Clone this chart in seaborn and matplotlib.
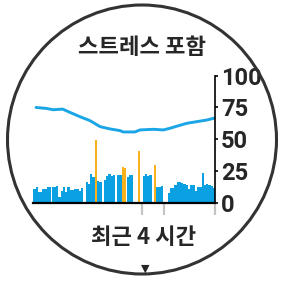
import numpy as np
import matplotlib
matplotlib.use("Agg")
import matplotlib.pyplot as plt
import seaborn as sns
from matplotlib.patches import Circle

# 3-minute bins over the last 4 hours (80 bins)
BIN_MIN = 3
rest_vals = [11, 12, 8.6, 8.6, 10.4, 10.4, 12, 12, 12, 12.5,
             13, 4.7, 9.4, 12.5, 8.6, 12, 10, 10, 10.4, 10.4,
             9.4, 11.7, 0, 16.4, 14.6, 22.4, 20.3, 0, 17, 16.4,
             0, 17.7, 20.8, 22.4, 20.8, 21.6, 0, 21.6, 21.6, 0,
             0, 20.3, 21.6, 21.6, 0, 0, 0, 0, 20.8, 22.4,
             20.8, 21.6, 0, 0, 12, 12.5, 13, 0, 0, 8,
             11.2, 11.2, 13.8, 16.4, 16, 15.6, 14.5, 13.8, 11, 13.8,
             13.8, 9.4, 12, 12.5, 23, 13.8, 14.6, 13.8, 13, 11.5]
stress_bins = [27, 39, 40, 46, 53]
stress_vals = [49.5, 28.5, 27, 41, 30]

# average stress line (minutes, value)
line_t = [3.6, 17.6, 26.4, 38.7, 48.4, 61.6, 74.8, 88, 101, 114, 118.7,
          134, 140.7, 158.3, 171.4, 180.3, 189, 202.3, 215.5, 228.7, 239.6]
line_v = [75, 74.2, 73.2, 73.7, 71.1, 67.7, 64.6, 59.9, 58.1, 56.8, 55.7,
          55.7, 57.3, 57.8, 57.3, 58.6, 60.2, 62.5, 63.8, 65.1, 66.7]

activity_t = [143, 173, 239]
hour_ticks = [60, 120, 180]
y_ticks = [0, 25, 50, 75, 100]

title = "스트레스 포함"
footer = "최근 4 시간"

BLUE = "#0aa0e2"
ORANGE = "#f9b21b"

sns.set_style("white")
plt.rcParams['font.family'] = ['Noto Sans CJK KR', 'DejaVu Sans']

fig = plt.figure(figsize=(2.81, 2.81), dpi=100)
ax = fig.add_axes([33.3 / 281, 78.3 / 281, 182 / 281, 127 / 281])

# bars
centers = np.arange(len(rest_vals)) * BIN_MIN + BIN_MIN / 2
ax.bar(centers, rest_vals, width=BIN_MIN, color=BLUE, linewidth=0)
s_centers = np.array(stress_bins) * BIN_MIN + BIN_MIN / 2
ax.bar(s_centers, stress_vals, width=BIN_MIN * 0.9, color=ORANGE, linewidth=0)

sns.lineplot(x=line_t, y=line_v, ax=ax, color="#1aa6e6", linewidth=2.1)

# activity markers under the axis
ax.vlines(activity_t, 0, -10, colors="#c4c4c4", linewidth=1.6, clip_on=False)

ax.set_xlim(0, 240)
ax.set_ylim(0, 100)
ax.set_xticks(hour_ticks)
ax.set_xticklabels([])
ax.tick_params(axis="x", direction="out", length=3, width=1.4, color="black")

ax.yaxis.tick_right()
ax.set_yticks(y_ticks)
ax.set_yticklabels([str(v) for v in y_ticks], fontsize=17, fontweight="bold",
                   family=["Liberation Sans Narrow", "Roboto", "DejaVu Sans"])
ax.tick_params(axis="y", direction="out", length=2.5, width=1.2, pad=1.5,
               color="black")

for side in ["left", "top"]:
    ax.spines[side].set_visible(False)
ax.spines["bottom"].set_linewidth(1.6)
ax.spines["bottom"].set_color("black")
ax.spines["right"].set_linewidth(1.2)
ax.spines["right"].set_color("black")
ax.set_xlabel("")
ax.set_ylabel("")
ax.patch.set_alpha(0)

# watch face ring
ring = Circle((142 / 281, 1 - 139.5 / 281), 134.5 / 281, transform=fig.transFigure,
              fill=False, edgecolor="#333333", linewidth=2.2)
fig.patches.append(ring)

fig.text(142 / 281, 1 - 48 / 281, title, ha="center", va="center",
         fontsize=16, fontweight="bold")
fig.text(144 / 281, 1 - 237 / 281, footer, ha="center", va="center",
         fontsize=16, fontweight="bold")
fig.text(145 / 281, 1 - 269 / 281, "▼", ha="center", va="center",
         fontsize=8, family=["DejaVu Sans"])

fig.savefig("out.png", dpi=100)
